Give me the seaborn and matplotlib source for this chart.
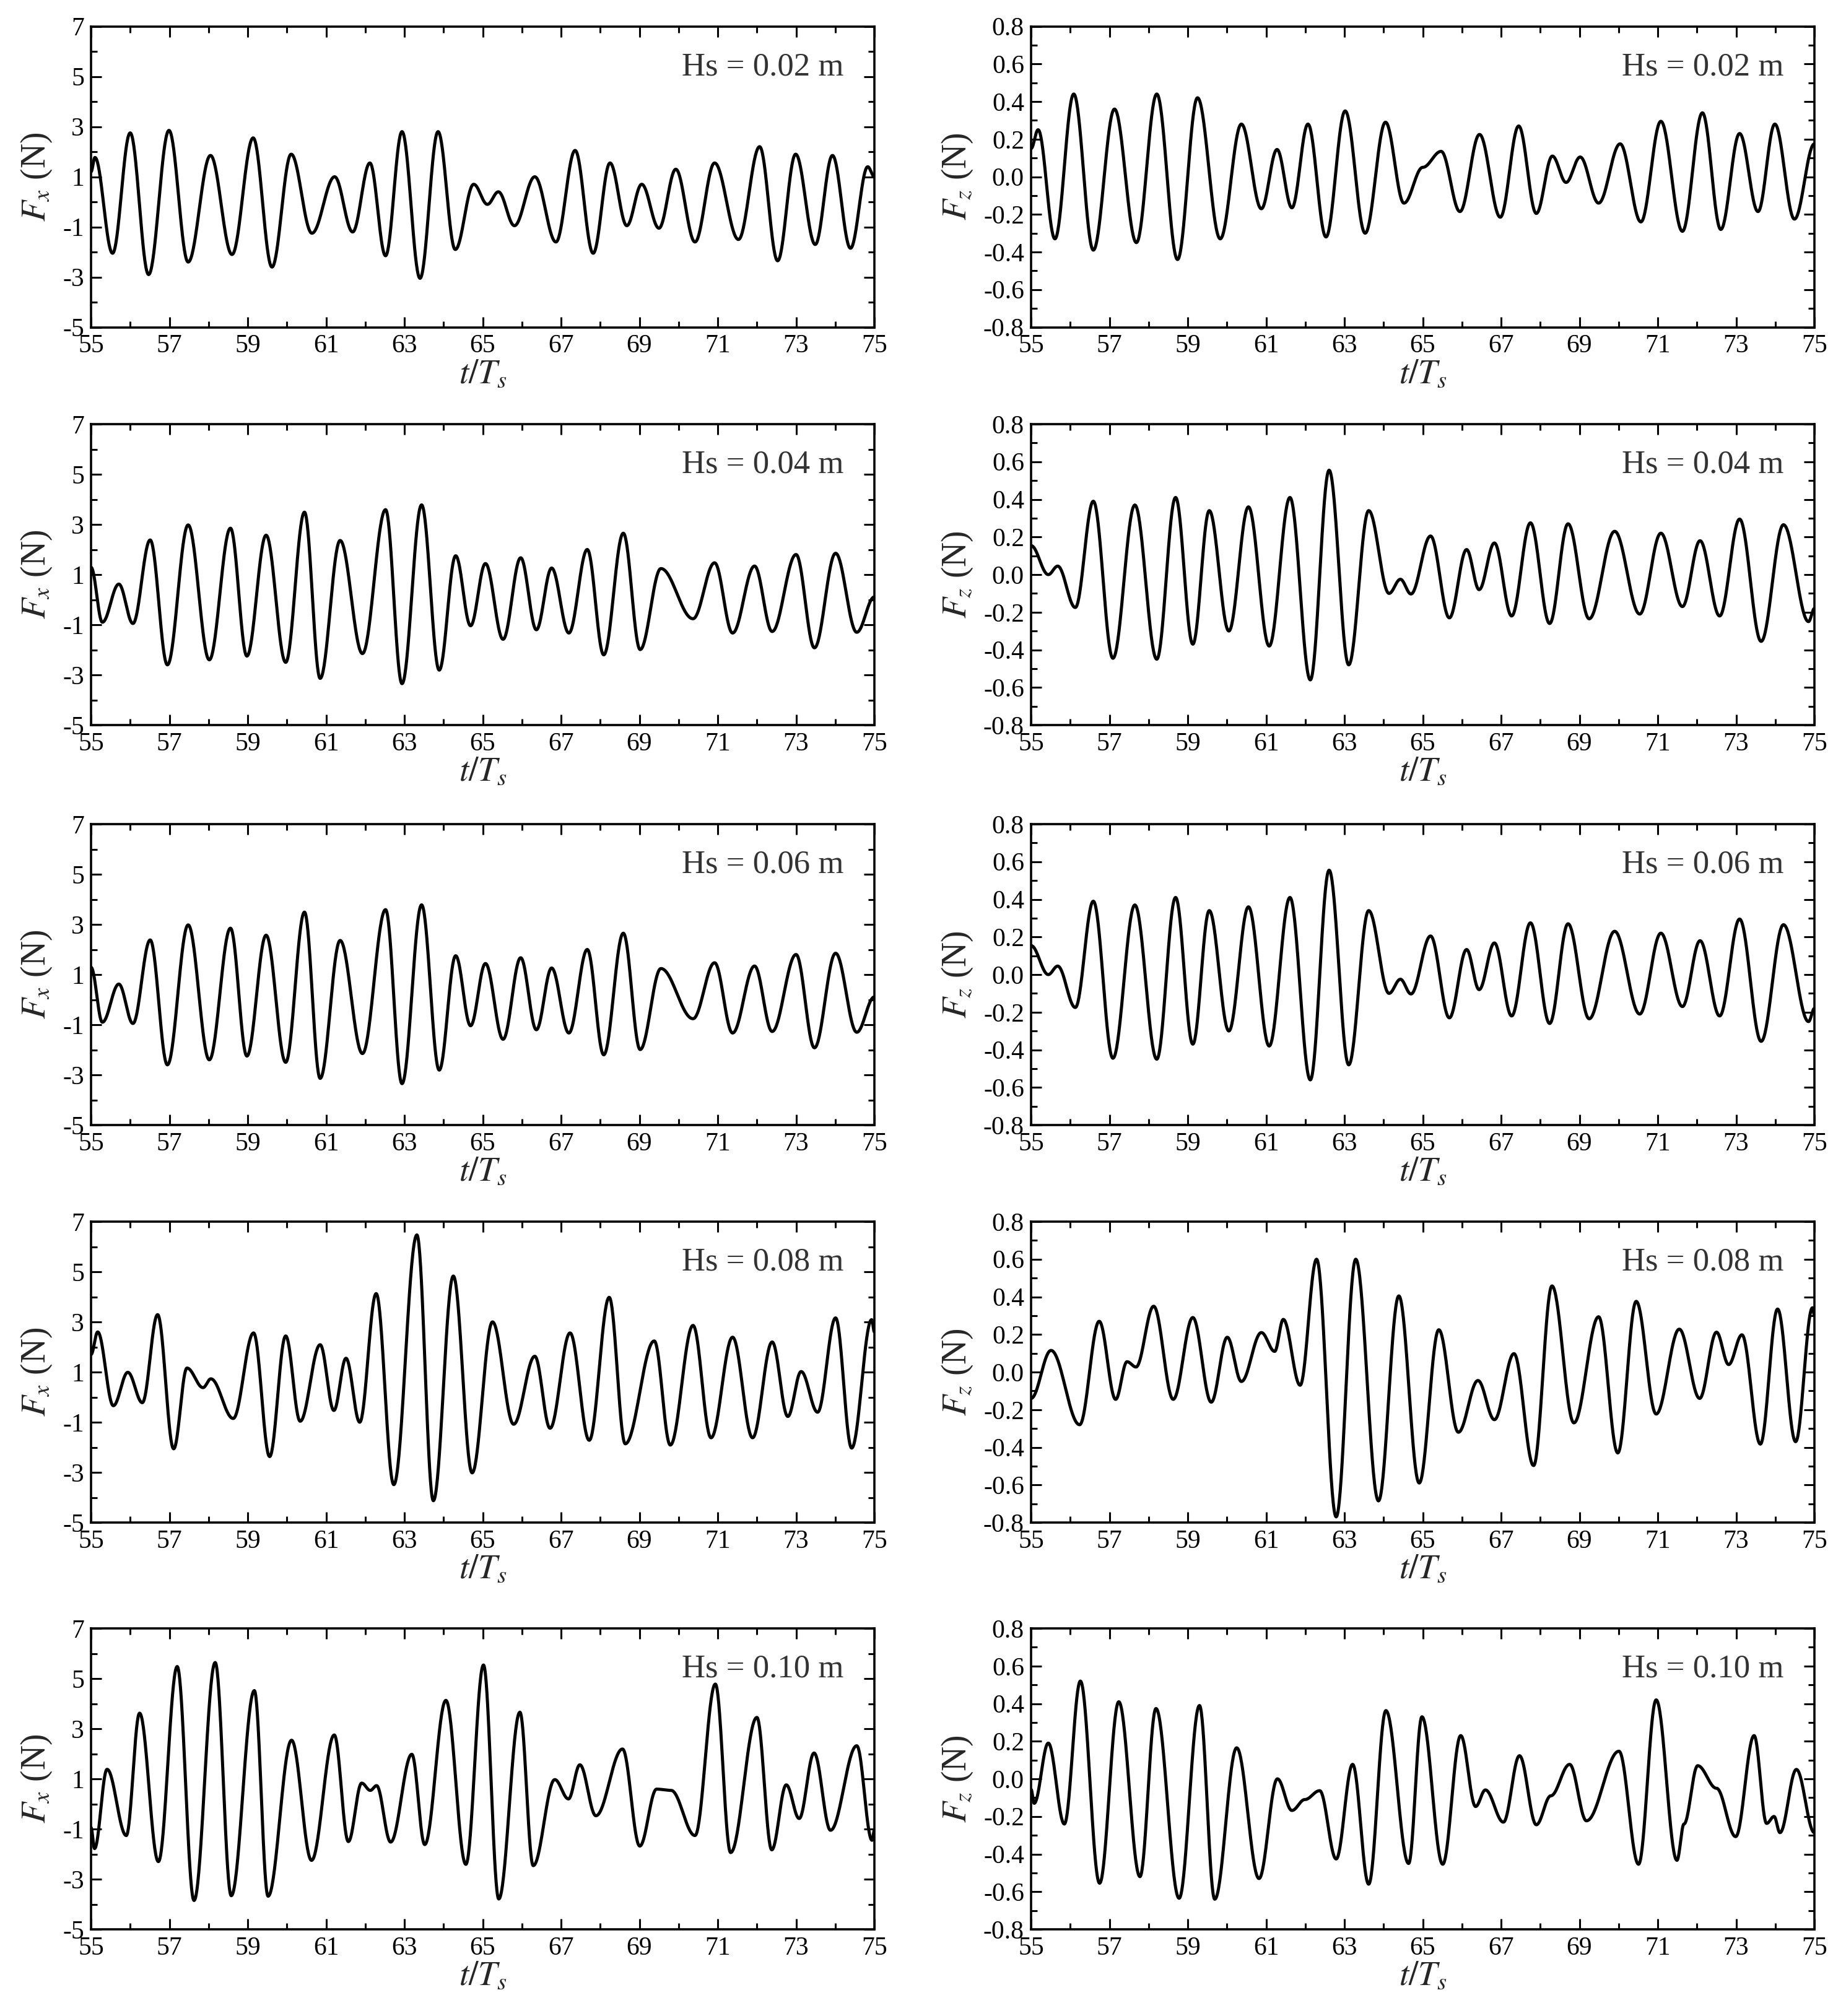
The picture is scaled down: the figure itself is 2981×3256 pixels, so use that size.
import numpy as np
import pandas as pd
import matplotlib
matplotlib.use("Agg")
import matplotlib.pyplot as plt
import seaborn as sns
from matplotlib.ticker import FormatStrFormatter

# ---------------- data: extrema (t/Ts, force) ----------------
FX_002_T = [55.0, 55.10, 55.55, 56.00, 56.47, 56.99, 57.48, 58.05, 58.60, 59.14, 59.62, 60.11, 60.64, 61.22, 61.68,
            62.12, 62.52, 62.94, 63.40, 63.86, 64.30, 64.77, 65.12, 65.40, 65.81, 66.33, 66.87, 67.36, 67.82, 68.25,
            68.68, 69.06, 69.50, 69.93, 70.42, 70.92, 71.53, 72.07, 72.53, 72.99, 73.49, 73.93, 74.39, 74.83, 75.0]
FX_002_V = [1.2, 1.77, -2.05, 2.75, -2.9, 2.85, -2.4, 1.85, -2.1, 2.55, -2.6, 1.9, -1.25, 1.0, -1.2,
            1.55, -2.15, 2.8, -3.05, 2.8, -1.9, 0.7, -0.1, 0.4, -0.95, 1.0, -1.6, 2.05, -2.05, 1.55,
            -0.95, 0.7, -1.05, 1.3, -1.6, 1.55, -1.5, 2.2, -2.35, 1.9, -1.7, 1.85, -1.85, 1.4, 1.0]

FZ_002_T = [55.0, 55.18, 55.61, 56.09, 56.59, 57.13, 57.69, 58.21, 58.74, 59.25, 59.83, 60.37, 60.88, 61.28, 61.66,
            62.07, 62.53, 63.02, 63.53, 64.05, 64.52, 65.0, 65.47, 65.95, 66.45, 66.98, 67.45, 67.90, 68.31, 68.66,
            69.02, 69.49, 70.04, 70.57, 71.08, 71.63, 72.14, 72.61, 73.09, 73.56, 73.99, 74.49, 75.0]
FZ_002_V = [0.15, 0.25, -0.33, 0.44, -0.39, 0.36, -0.35, 0.44, -0.44, 0.42, -0.33, 0.28, -0.17, 0.145, -0.165,
            0.28, -0.32, 0.35, -0.30, 0.29, -0.14, 0.05, 0.135, -0.185, 0.225, -0.215, 0.27, -0.195, 0.11, -0.03,
            0.105, -0.14, 0.175, -0.24, 0.295, -0.29, 0.34, -0.28, 0.23, -0.185, 0.28, -0.225, 0.175]

FX_004_T = [55.0, 55.29, 55.71, 56.07, 56.51, 56.95, 57.48, 58.02, 58.56, 58.98, 59.47, 59.97, 60.45, 60.85, 61.36,
            61.93, 62.52, 62.94, 63.44, 63.89, 64.31, 64.69, 65.07, 65.52, 65.97, 66.37, 66.76, 67.20, 67.67, 68.09,
            68.59, 69.02, 69.55, 70.37, 70.92, 71.38, 71.94, 72.39, 73.0, 73.47, 74.01, 74.55, 75.0]
FX_004_V = [1.29, -0.9, 0.62, -0.95, 2.38, -2.6, 2.98, -2.4, 2.85, -2.25, 2.57, -2.5, 3.49, -3.14, 2.36,
            -2.15, 3.59, -3.35, 3.78, -2.81, 1.75, -1.04, 1.44, -1.58, 1.67, -1.2, 1.26, -1.33, 2.0, -2.2,
            2.65, -1.99, 1.24, -0.76, 1.47, -1.33, 1.34, -1.27, 1.8, -1.92, 1.85, -1.3, 0.11]

FZ_004_T = [55.0, 55.44, 55.68, 56.13, 56.59, 57.09, 57.65, 58.21, 58.69, 59.13, 59.55, 60.05, 60.55, 61.08, 61.61,
            62.13, 62.61, 63.11, 63.62, 64.14, 64.43, 64.70, 65.20, 65.68, 66.12, 66.44, 66.83, 67.27, 67.75, 68.24,
            68.71, 69.25, 69.90, 70.54, 71.08, 71.63, 72.08, 72.58, 73.09, 73.64, 74.21, 74.85, 75.0]
FZ_004_V = [0.154, 0.0, 0.045, -0.175, 0.39, -0.445, 0.37, -0.45, 0.41, -0.37, 0.34, -0.30, 0.36, -0.38, 0.41,
            -0.56, 0.555, -0.48, 0.34, -0.10, -0.025, -0.103, 0.205, -0.23, 0.133, -0.08, 0.168, -0.22, 0.275, -0.26,
            0.27, -0.235, 0.23, -0.21, 0.22, -0.17, 0.18, -0.22, 0.295, -0.355, 0.265, -0.25, -0.18]

# the 0.06 m panels in the reference show the same curves as the 0.04 m panels
FX_006_T, FX_006_V = list(FX_004_T), list(FX_004_V)
FZ_006_T, FZ_006_V = list(FZ_004_T), list(FZ_004_V)

FX_008_T = [55.0, 55.17, 55.57, 55.94, 56.31, 56.70, 57.11, 57.45, 57.86, 58.06, 58.63, 59.15, 59.56, 59.97, 60.34,
            60.85, 61.20, 61.51, 61.86, 62.28, 62.73, 63.32, 63.74, 64.25, 64.73, 65.25, 65.79, 66.33, 66.72, 67.23,
            67.72, 68.23, 68.64, 69.38, 69.79, 70.37, 70.83, 71.38, 71.89, 72.39, 72.79, 73.13, 73.55, 74.01, 74.42,
            74.93, 75.0]
FX_008_V = [1.7, 2.6, -0.34, 0.99, -0.22, 3.29, -2.06, 1.16, 0.38, 0.73, -0.85, 2.56, -2.37, 2.44, -0.96,
            2.09, -0.53, 1.55, -1.0, 4.13, -3.49, 6.47, -4.13, 4.83, -3.02, 3.0, -1.08, 1.63, -1.24, 2.56,
            -1.72, 3.98, -1.86, 2.24, -1.91, 2.86, -1.62, 2.39, -1.62, 2.2, -0.77, 1.02, -0.6, 3.16, -2.03,
            3.09, 2.6]

FZ_008_T = [55.0, 55.51, 56.24, 56.74, 57.16, 57.45, 57.68, 58.13, 58.63, 59.13, 59.60, 60.01, 60.37, 60.88, 61.22,
            61.44, 61.87, 62.29, 62.79, 63.29, 63.87, 64.39, 64.91, 65.41, 65.91, 66.41, 66.83, 67.33, 67.83, 68.30,
            68.86, 69.49, 69.98, 70.45, 70.96, 71.55, 72.07, 72.50, 72.81, 73.15, 73.62, 74.06, 74.52, 74.95, 75.0]
FZ_008_V = [-0.14, 0.115, -0.28, 0.27, -0.145, 0.055, 0.027, 0.35, -0.145, 0.29, -0.16, 0.185, -0.05, 0.21, 0.11,
            0.28, -0.07, 0.6, -0.77, 0.6, -0.685, 0.405, -0.59, 0.225, -0.32, -0.045, -0.253, 0.098, -0.497, 0.458,
            -0.27, 0.294, -0.43, 0.376, -0.223, 0.228, -0.14, 0.212, 0.04, 0.198, -0.383, 0.335, -0.37, 0.342, 0.30]

FX_010_T = [55.0, 55.09, 55.41, 55.90, 56.24, 56.72, 57.20, 57.63, 58.17, 58.58, 59.17, 59.52, 60.12, 60.63, 61.21,
            61.57, 61.91, 62.13, 62.29, 62.65, 63.19, 63.52, 64.06, 64.57, 65.02, 65.41, 65.95, 66.29, 66.84, 67.19,
            67.48, 67.89, 68.57, 69.01, 69.44, 69.81, 70.42, 70.94, 71.33, 72.00, 72.38, 72.75, 73.08, 73.46, 73.88,
            74.55, 74.94, 75.0]
FX_010_V = [-0.94, -1.78, 1.38, -1.26, 3.62, -2.3, 5.48, -3.85, 5.64, -3.66, 4.52, -3.68, 2.54, -2.25, 2.75,
            -1.5, 0.83, 0.54, 0.73, -1.52, 1.98, -1.62, 4.13, -2.41, 5.54, -3.79, 3.66, -2.46, 0.97, 0.2,
            1.56, -0.47, 2.19, -1.68, 0.59, 0.54, -1.26, 4.78, -1.94, 3.45, -1.83, 0.76, -0.58, 2.03, -1.05,
            2.32, -1.45, -1.05]

FZ_010_T = [55.0, 55.08, 55.44, 55.85, 56.26, 56.75, 57.24, 57.78, 58.19, 58.78, 59.30, 59.69, 60.25, 60.82, 61.29,
            61.66, 61.99, 62.37, 62.79, 63.21, 63.62, 64.06, 64.64, 64.98, 65.51, 65.97, 66.35, 66.60, 67.06, 67.47,
            67.90, 68.27, 68.75, 69.18, 70.01, 70.51, 70.96, 71.49, 71.67, 72.02, 72.50, 72.99, 73.46, 73.78, 73.97,
            74.12, 74.54, 75.0]
FZ_010_V = [-0.056, -0.13, 0.19, -0.24, 0.52, -0.555, 0.41, -0.52, 0.374, -0.635, 0.39, -0.64, 0.165, -0.53, 0.0,
            -0.168, -0.11, -0.063, -0.426, 0.077, -0.56, 0.363, -0.45, 0.33, -0.454, 0.23, -0.147, -0.059, -0.23, 0.123,
            -0.244, -0.09, 0.077, -0.223, 0.147, -0.454, 0.42, -0.433, -0.24, 0.07, -0.05, -0.307, 0.23, -0.237, -0.2,
            -0.286, 0.05, -0.286]

HS_LABELS = ["Hs = 0.02 m", "Hs = 0.04 m", "Hs = 0.06 m", "Hs = 0.08 m", "Hs = 0.10 m"]
X_TICKS = [55, 57, 59, 61, 63, 65, 67, 69, 71, 73, 75]
FX_TICKS = [-5, -3, -1, 1, 3, 5, 7]
FZ_TICKS = [-0.8, -0.6, -0.4, -0.2, 0.0, 0.2, 0.4, 0.6, 0.8]

FX_SERIES = [(FX_002_T, FX_002_V), (FX_004_T, FX_004_V), (FX_006_T, FX_006_V), (FX_008_T, FX_008_V), (FX_010_T, FX_010_V)]
FZ_SERIES = [(FZ_002_T, FZ_002_V), (FZ_004_T, FZ_004_V), (FZ_006_T, FZ_006_V), (FZ_008_T, FZ_008_V), (FZ_010_T, FZ_010_V)]


def wave_path(t_ext, v_ext, n=40):
    """Draw a smooth wave through the read extrema (half-cosine between successive turning points)."""
    xs, ys = [], []
    s = np.linspace(0.0, 1.0, n, endpoint=False)
    for i in range(len(t_ext) - 1):
        t0, t1 = t_ext[i], t_ext[i + 1]
        v0, v1 = v_ext[i], v_ext[i + 1]
        xs.append(t0 + (t1 - t0) * s)
        ys.append(v0 + (v1 - v0) * (1 - np.cos(np.pi * s)) / 2)
    xs.append([t_ext[-1]])
    ys.append([v_ext[-1]])
    return np.concatenate(xs), np.concatenate(ys)


# ---------------- styling ----------------
sns.set_theme(style="ticks")
plt.rcParams["font.family"] = ["Liberation Serif", "DejaVu Serif"]
plt.rcParams["mathtext.fontset"] = "stix"
plt.rcParams["axes.unicode_minus"] = False

W, H = 2981, 3256
fig = plt.figure(figsize=(W / 100, H / 100), dpi=100)

col_left = [147 / W, 1665 / W]
ax_w = 1265 / W
row_bottom_px = [528.5, 1171, 1817, 2459, 3116]
ax_h = 486 / H

TICK_FS = 30
LABEL_FS = 40
HS_FS = 38

for r in range(5):
    for c in range(2):
        ax = fig.add_axes([col_left[c], 1 - row_bottom_px[r] / H, ax_w, ax_h])
        if c == 0:
            t_ext, v_ext = FX_SERIES[r]
        else:
            t_ext, v_ext = FZ_SERIES[r]
        tt, ff = wave_path(t_ext, v_ext)
        df = pd.DataFrame({"t": tt, "F": ff})
        sns.lineplot(data=df, x="t", y="F", ax=ax, color="black", linewidth=3.6,
                     estimator=None, sort=False, legend=False)
        ax.set_xlim(55, 75)
        ax.set_xticks(X_TICKS)
        ax.set_xticks(np.arange(55, 76, 1), minor=True)
        if c == 0:
            ax.set_ylim(-5, 7)
            ax.set_yticks(FX_TICKS)
            ax.set_yticks(np.arange(-5, 7.5, 1), minor=True)
            ax.set_ylabel(r"$F_x$ (N)", fontsize=LABEL_FS, labelpad=10)
        else:
            ax.set_ylim(-0.8, 0.8)
            ax.set_yticks(FZ_TICKS)
            ax.set_yticks(np.arange(-0.8, 0.85, 0.1), minor=True)
            ax.yaxis.set_major_formatter(FormatStrFormatter("%.1f"))
            ax.set_ylabel(r"$F_z$ (N)", fontsize=LABEL_FS, labelpad=10)
        ax.set_xlabel(r"$t/T_s$", fontsize=LABEL_FS, labelpad=0)
        ax.tick_params(which="both", direction="in", top=True, right=True,
                       width=2.2, colors="black", labelsize=TICK_FS, pad=8)
        ax.tick_params(which="major", length=12)
        ax.tick_params(which="minor", length=7)
        for sp in ax.spines.values():
            sp.set_linewidth(2.6)
            sp.set_color("black")
        ax.text(0.961, 0.865, HS_LABELS[r], transform=ax.transAxes, ha="right", va="center",
                fontsize=HS_FS, color="#333333")

fig.savefig("out.png", dpi=100)
